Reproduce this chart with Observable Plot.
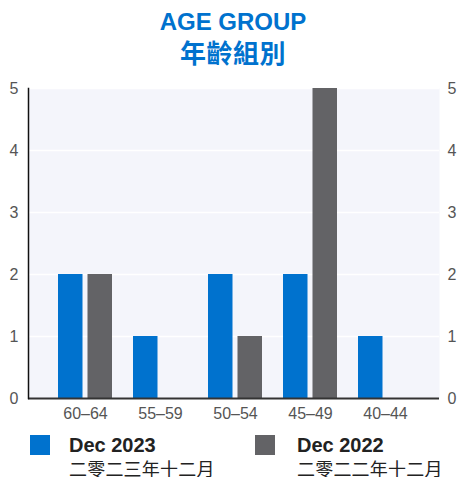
<!DOCTYPE html>
<html>
<head>
<meta charset="utf-8">
<script src="https://cdn.jsdelivr.net/npm/d3@7"></script>
<script src="https://cdn.jsdelivr.net/npm/@observablehq/plot@0.6"></script>
<style>
  html, body { margin: 0; padding: 0; background: #fff; }
  #wrap { position: relative; width: 457px; height: 477px; overflow: hidden; font-family: "Liberation Sans", Arial, sans-serif; }
  .title { position: absolute; left: 0; width: 466px; text-align: center; color: #0072ce; font-weight: bold; }
  #t1 { top: 10px; font-size: 24px; line-height: 24px; }
  #t2 { top: 39px; font-size: 26px; line-height: 26px; font-family: "Noto Sans CJK TC", "Noto Sans CJK SC", sans-serif; letter-spacing: 0.5px; }
  #chart { position: absolute; left: 0; top: 70px; }
  .sw { position: absolute; width: 20px; height: 20px; top: 435px; }
  .lg1 { position: absolute; top: 435px; font-size: 20px; line-height: 20px; font-weight: bold; color: #222; }
  .lg2 { position: absolute; top: 459px; font-size: 18px; line-height: 18px; color: #222; font-family: "Noto Sans CJK TC", "Noto Sans CJK SC", sans-serif; letter-spacing: 0.2px; }
</style>
</head>
<body>
<div id="wrap">
  <div class="title" id="t1"></div>
  <div class="title" id="t2"></div>
  <div id="chart"></div>
  <div id="legend"></div>
</div>
<script>
const titleEn = "AGE GROUP";
const titleZh = "年齡組別";
const groups = ["60–64", "55–59", "50–54", "45–49", "40–44"];
const dec2023 = [2, 1, 2, 2, 1];
const dec2022 = [2, 0, 1, 5, 0];
const yTicks = [0, 1, 2, 3, 4, 5];
const seriesEn = ["Dec 2023", "Dec 2022"];
const seriesZh = ["二零二三年十二月", "二零二二年十二月"];
const seriesColors = ["#0072ce", "#636366"];

document.getElementById("t1").textContent = titleEn;
document.getElementById("t2").textContent = titleZh;

const data = groups.map((g, i) => ({group: g, v23: dec2023[i], v22: dec2022[i]}));

const chart = Plot.plot({
  width: 457,
  height: 353,
  marginTop: 18,
  marginBottom: 25,
  marginLeft: 28,
  marginRight: 18,
  style: {fontFamily: "'Liberation Sans', Arial, sans-serif", fontSize: "16px", background: "transparent", overflow: "visible"},
  x: {domain: groups, paddingInner: 0.28, paddingOuter: 0.35, align: 0.52, axis: null},
  y: {domain: [0, 5], axis: null},
  marks: [
    Plot.frame({fill: "#f4f5fb", stroke: null}),
    Plot.gridY(yTicks, {stroke: "#ffffff", strokeOpacity: 1, strokeWidth: 1.5}),
    Plot.barY(data, {x: "group", y: "v23", fill: seriesColors[0], insetRight: 29.5}),
    Plot.barY(data, {x: "group", y: "v22", fill: seriesColors[1], insetLeft: 29.5}),
    Plot.axisX({tickSize: 0, tickPadding: 9.5, fill: "#555", fontSize: 16, label: null}),
    Plot.axisY(yTicks, {anchor: "left", tickSize: 0, tickPadding: 10, fill: "#555", fontSize: 16, label: null, tickFormat: d => String(d)}),
    Plot.axisY(yTicks, {anchor: "right", tickSize: 0, tickPadding: 8, fill: "#555", fontSize: 16, label: null, tickFormat: d => String(d)}),
    Plot.ruleY([0], {stroke: "#333", strokeWidth: 2}),
    Plot.frame({anchor: "left", stroke: "#111", strokeWidth: 1.5})
  ]
});
document.getElementById("chart").appendChild(chart);

const legend = document.getElementById("legend");
const xs = [{sw: 30, tx: 69}, {sw: 255, tx: 297}];
seriesEn.forEach((s, i) => {
  const sw = document.createElement("div");
  sw.className = "sw";
  sw.style.left = xs[i].sw + "px";
  sw.style.background = seriesColors[i];
  legend.appendChild(sw);
  const l1 = document.createElement("div");
  l1.className = "lg1";
  l1.style.left = xs[i].tx + "px";
  l1.textContent = s;
  legend.appendChild(l1);
  const l2 = document.createElement("div");
  l2.className = "lg2";
  l2.style.left = xs[i].tx + "px";
  l2.textContent = seriesZh[i];
  legend.appendChild(l2);
});
</script>
</body>
</html>
